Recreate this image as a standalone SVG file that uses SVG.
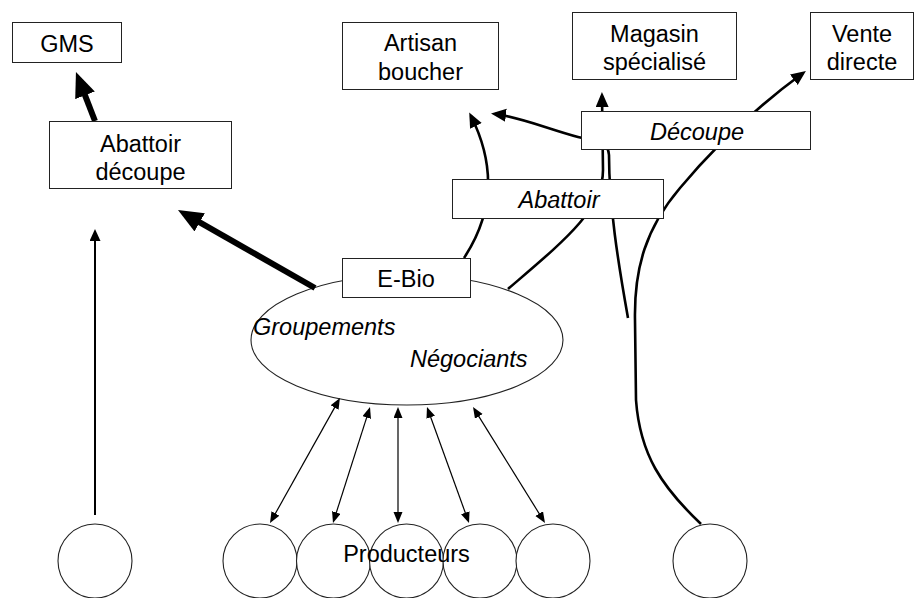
<svg xmlns="http://www.w3.org/2000/svg" width="915" height="598" viewBox="0 0 915 598">
<style>
text{font-family:"Liberation Sans",Arial,Helvetica,sans-serif;font-size:23.5px;fill:#000;text-anchor:middle}
.it{font-style:italic}
.st{text-anchor:start}
.box{fill:#fff;stroke:#222;stroke-width:1}
.circ{fill:#fff;stroke:#222;stroke-width:1.1}
.med{fill:none;stroke:#000;stroke-width:2.6}
.thick{fill:none;stroke:#000;stroke-width:6}
.thin{fill:none;stroke:#000;stroke-width:2}
.bi{fill:none;stroke:#000;stroke-width:1.2}
</style>
<defs>
<marker id="aM" markerUnits="userSpaceOnUse" markerWidth="16" markerHeight="14" refX="11" refY="6.5" orient="auto"><path d="M0,0 L15,6.5 L0,13 z" fill="#000"/></marker>
<marker id="aT" markerUnits="userSpaceOnUse" markerWidth="26" markerHeight="22" refX="13" refY="10.5" orient="auto"><path d="M0,0 L25,10.5 L0,21 z" fill="#000"/></marker>
<marker id="aS" markerUnits="userSpaceOnUse" markerWidth="13" markerHeight="12" refX="8" refY="5.5" orient="auto"><path d="M0,0 L12,5.5 L0,11 z" fill="#000"/></marker>
<marker id="aB" markerUnits="userSpaceOnUse" markerWidth="12" markerHeight="10" refX="8" refY="4.5" orient="auto-start-reverse"><path d="M0,0 L11,4.5 L0,9 z" fill="#000"/></marker>
</defs>

<g id="groupements">
<ellipse cx="407" cy="340" rx="156" ry="65" fill="#fff" stroke="#222" stroke-width="1.1"/>
<text class="it st" x="253" y="335">Groupements</text>
<text class="it st" x="410" y="367">Négociants</text>
</g>

<g id="connectors">
<path class="thick" d="M95,121 L80.3,83.2" marker-end="url(#aT)"/>
<path class="thick" d="M315,288 L188.4,215.9" marker-end="url(#aT)"/>
<path class="thin" d="M95,515 L95,233" marker-end="url(#aS)"/>
<path class="med" d="M464,258 C 497,208 493,160 471,116" marker-end="url(#aM)"/>
<path class="med" d="M508,289 C 565,240 603,210 603,170 L 602,96" marker-end="url(#aM)"/>
<path class="med" d="M628,318 C 618,262 609,205 609,155 C 608,138 590,140 578,137 C 548,129 520,117 495,114" marker-end="url(#aM)"/>
<path class="med" d="M701,524 C 662,487 640,455 636,400 L 635,320 C 634,268 646,228 680,188 C 710,152 750,112 802.7,73.3" marker-end="url(#aM)"/>
<path class="bi" d="M271.5,520.4 L338.5,400.6" marker-start="url(#aB)" marker-end="url(#aB)"/>
<path class="bi" d="M333.9,520.1 L369.1,409.9" marker-start="url(#aB)" marker-end="url(#aB)"/>
<path class="bi" d="M398,520 L398,410" marker-start="url(#aB)" marker-end="url(#aB)"/>
<path class="bi" d="M468,520.2 L428,409.8" marker-start="url(#aB)" marker-end="url(#aB)"/>
<path class="bi" d="M543.4,520.4 L474.6,409.6" marker-start="url(#aB)" marker-end="url(#aB)"/>
</g>

<g id="gms">
<rect class="box" x="12.5" y="22.5" width="109" height="40"/>
<text x="67" y="52">GMS</text>
</g>
<g id="abattoir-decoupe">
<rect class="box" x="49.5" y="121.5" width="182" height="67"/>
<text x="140.5" y="152">Abattoir</text>
<text x="140.5" y="180">découpe</text>
</g>
<g id="artisan-boucher">
<rect class="box" x="342.5" y="22.5" width="156" height="67"/>
<text x="420.5" y="51">Artisan</text>
<text x="420.5" y="80">boucher</text>
</g>
<g id="magasin-specialise">
<rect class="box" x="572.5" y="12.5" width="164" height="67"/>
<text x="654.5" y="42">Magasin</text>
<text x="654.5" y="70">spécialisé</text>
</g>
<g id="vente-directe">
<rect class="box" x="810.5" y="12.5" width="103" height="67"/>
<text x="862" y="42">Vente</text>
<text x="862" y="70">directe</text>
</g>
<g id="abattoir">
<rect class="box" x="452.5" y="179.5" width="211" height="39"/>
<text class="it" x="559" y="208">Abattoir</text>
</g>
<g id="decoupe">
<rect class="box" x="581.5" y="111.5" width="229" height="38"/>
<text class="it" x="697" y="140">Découpe</text>
</g>
<g id="e-bio">
<rect class="box" x="342.5" y="258.5" width="128" height="39"/>
<text x="406" y="287">E-Bio</text>
</g>

<g id="producteur-gauche"><circle class="circ" cx="95" cy="561" r="37"/></g>
<g id="producteurs">
<circle class="circ" cx="260" cy="561" r="37"/>
<circle class="circ" cx="333.5" cy="561" r="37"/>
<circle class="circ" cx="406.5" cy="561" r="37"/>
<circle class="circ" cx="480" cy="561" r="37"/>
<circle class="circ" cx="553" cy="561" r="37"/>
<text x="406.5" y="562">Producteurs</text>
</g>
<g id="producteur-droite"><circle class="circ" cx="710" cy="561" r="37"/></g>
</svg>
